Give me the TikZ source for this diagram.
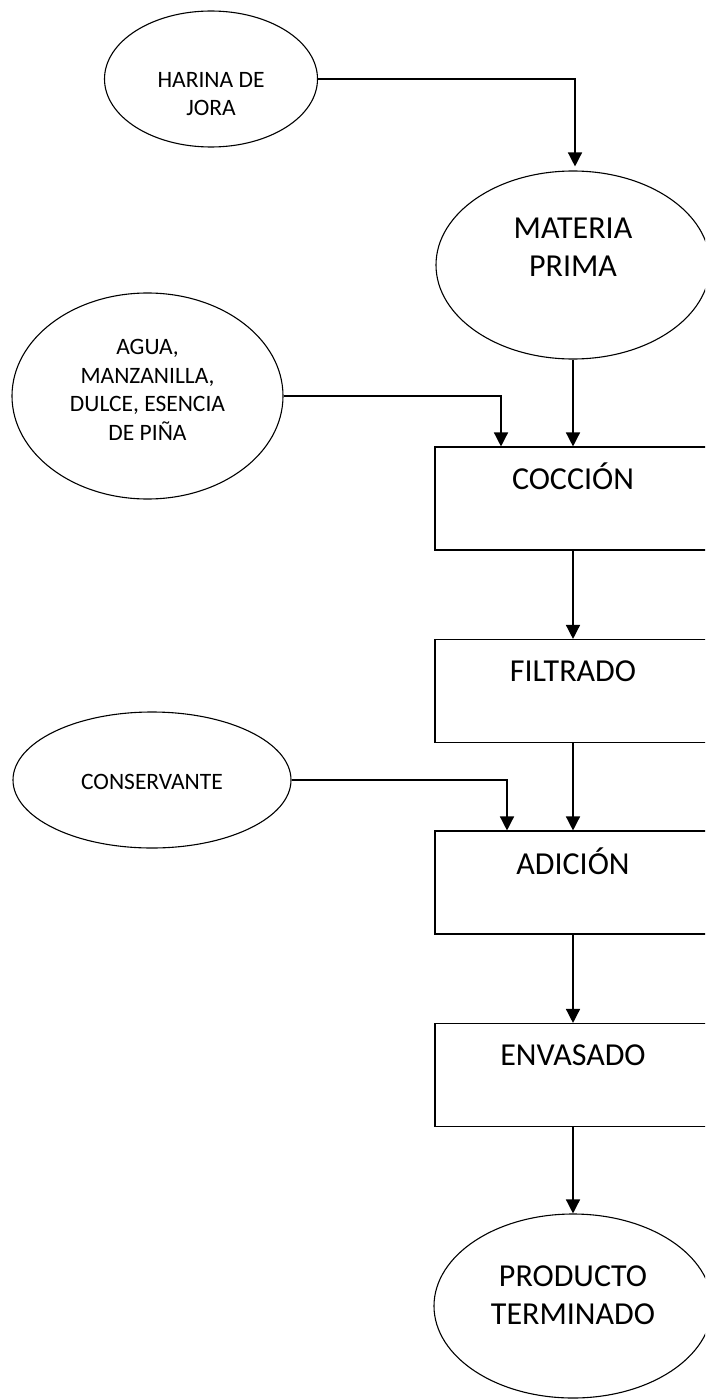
\documentclass[tikz,border=0pt]{standalone}
\usepackage{fontspec}
\setmainfont{Carlito}
\usetikzlibrary{arrows.meta, shapes.geometric}

\begin{document}
\begin{tikzpicture}[x=1pt, y=-1pt]
	\tikzstyle{feed} = [draw, ellipse, line width=1.1pt, inner sep=0pt]
	\tikzstyle{stage} = [draw, rectangle, line width=1.1pt, minimum width=276pt, minimum height=103pt, inner sep=0pt]
	\tikzstyle{smalltxt} = [align=center, inner sep=0pt, font=\fontsize{23.5}{28.5}\selectfont]
	\tikzstyle{bigtxt} = [align=center, inner sep=0pt, font=\fontsize{32}{37.5}\selectfont]
	\tikzstyle{flow} = [line width=1.4pt, -{Triangle[width=14pt,length=14pt]}]
	\useasboundingbox (0,0) rectangle (705,1399);
	\fill[white] (0,0) rectangle (705,1399);
	\clip (0,0) rectangle (705,1399);

	% inputs and outputs
	\node[feed, minimum width=213pt, minimum height=136pt] (harina) at (211,79) {};
	\node[feed, minimum width=274pt, minimum height=188pt] (materia) at (573,265) {};
	\node[feed, minimum width=271pt, minimum height=206pt] (agua) at (147.5,396) {};
	\node[feed, minimum width=278pt, minimum height=136pt] (conservante) at (152,780) {};
	\node[feed, minimum width=278pt, minimum height=184pt] (producto) at (573,1306) {};

	% process steps
	\node[stage] (coccion) at (573,498.5) {}; \node[stage] (filtrado) at (573,691) {};
	\node[stage] (adicion) at (573,882.5) {}; \node[stage] (envasado) at (573,1075) {};

	% texts
	\node[smalltxt] (harinatxt) at (211,94) {HARINA DE\\JORA};
	\node[bigtxt] (materiatxt) at (573,247) {MATERIA\\PRIMA};
	\node[smalltxt] (aguatxt) at (147.5,390) {AGUA,\\MANZANILLA,\\DULCE, ESENCIA\\DE PIÑA};
	\node[smalltxt] (conservantetxt) at (152,782) {CONSERVANTE};
	\node[bigtxt] (productotxt) at (573,1295) {PRODUCTO\\TERMINADO};
	\node[bigtxt] (cocciontxt) at (573,476) {COCCIÓN}; \node[bigtxt] (filtradotxt) at (573,671) {FILTRADO};
	\node[bigtxt] (adiciontxt) at (573,861) {ADICIÓN}; \node[bigtxt] (envasadotxt) at (573,1055) {ENVASADO};

	% connectors
	\draw[flow, shorten >=4pt] (harina.east) -| ([xshift=2pt]materia.north);
	\draw[flow] (materia.south) -- (coccion.north);
	\draw[flow] (agua.east) -| ([xshift=-72pt]coccion.north);
	\draw[flow] (coccion.south) -- (filtrado.north);
	\draw[flow] (filtrado.south) -- (adicion.north);
	\draw[flow] (conservante.east) -| ([xshift=-66pt]adicion.north);
	\draw[flow] (adicion.south) -- (envasado.north);
	\draw[flow] (envasado.south) -- (producto.north);
\end{tikzpicture}
\end{document}
